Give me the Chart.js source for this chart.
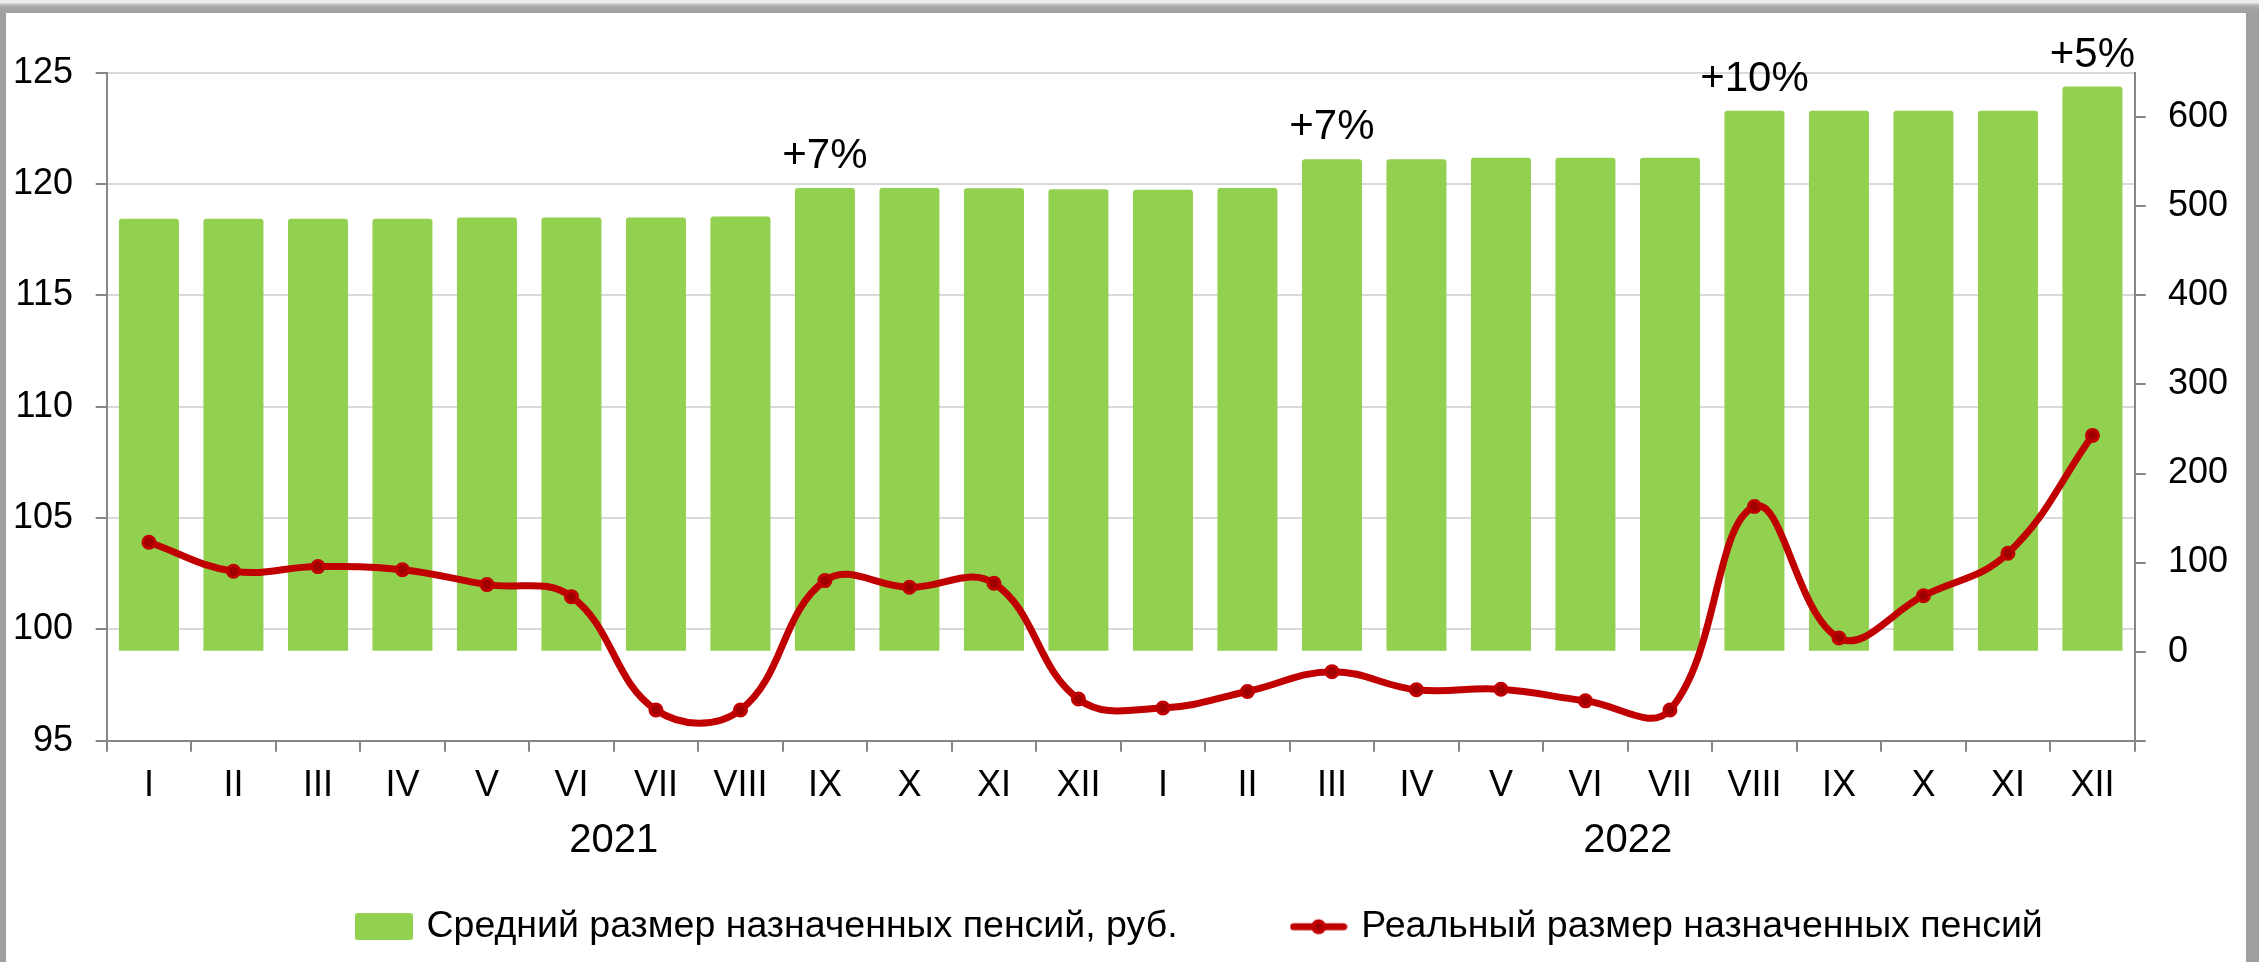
<!DOCTYPE html>
<html lang="ru">
<head>
<meta charset="utf-8">
<title>Средний и реальный размер назначенных пенсий</title>
<script src="https://cdn.jsdelivr.net/npm/chart.js@4.4.1/dist/chart.umd.min.js"></script>
<style>
  html, body { margin: 0; padding: 0; background: #fff; }
  body { width: 2259px; height: 962px; position: relative; overflow: hidden; }
  .frame-top { position: absolute; left: 0; top: 0; width: 2259px; height: 13px;
    background: linear-gradient(#ececec 0, #ececec 3px, #c4c4c4 4px, #a6a6a6 7px, #a0a0a0 13px); }
  .frame-left { position: absolute; left: 0; top: 13px; width: 6px; height: 949px; background: #9f9f9f; }
  .frame-right { position: absolute; left: 2246px; top: 13px; width: 13px; height: 949px; background: #9f9f9f; }
  #pensionChart { position: absolute; left: 6px; top: 13px; }
</style>
</head>
<body>
<div class="frame-top"></div>
<div class="frame-left"></div>
<div class="frame-right"></div>
<canvas id="pensionChart" width="2240" height="949"></canvas>
<script>
const months = ['I', 'II', 'III', 'IV', 'V', 'VI', 'VII', 'VIII', 'IX', 'X', 'XI', 'XII',
                'I', 'II', 'III', 'IV', 'V', 'VI', 'VII', 'VIII', 'IX', 'X', 'XI', 'XII'];
const years = ['2021', '2022'];

// Средний размер назначенных пенсий, руб. (right axis)
const avgPension = [485.9, 485.9, 485.9, 485.9, 487.4, 487.4, 487.4, 488.6, 520.5, 520.5, 520.2, 519.1,
                    518.7, 520.5, 552.8, 552.8, 554.5, 554.5, 554.5, 607.4, 607.4, 607.4, 607.4, 634.5];
// Реальный размер назначенных пенсий (left axis)
const realPension = [103.91, 102.61, 102.82, 102.68, 102.01, 101.47, 96.38, 96.38, 102.19, 101.89, 102.07, 96.87,
                     96.47, 97.21, 98.10, 97.29, 97.31, 96.79, 96.38, 105.52, 99.61, 101.51, 103.42, 108.71];
// pension increases shown above the bars
const raiseLabels = ['', '', '', '', '', '', '', '', '+7%', '', '', '',
                     '', '', '+7%', '', '', '', '', '+10%', '', '', '', '+5%'];

const GREEN = '#92d050';
const RED = '#c00000';
const AXIS = '#868686';
const GRID = '#d9d9d9';
const FONT = '"Liberation Sans", Arial, sans-serif';
const LEGEND_GAP = 117;

Chart.defaults.font.family = FONT;
Chart.defaults.font.size = 36;
Chart.defaults.color = '#000';

function legendIcon(kind) {
    const c = document.createElement('canvas');
    const ctx = c.getContext('2d');
    if (kind === 'bar') {
        c.width = 58; c.height = 27;
        ctx.fillStyle = GREEN;
        ctx.beginPath(); ctx.roundRect(0, 0, 58, 27, 3); ctx.fill();
    } else {
        c.width = 58; c.height = 18;
        ctx.strokeStyle = RED; ctx.lineWidth = 7; ctx.lineCap = 'round';
        ctx.beginPath(); ctx.moveTo(4, 9); ctx.lineTo(54, 9); ctx.stroke();
        ctx.fillStyle = RED;
        ctx.beginPath(); ctx.arc(29, 9, 7.5, 0, Math.PI * 2); ctx.fill();
        ctx.fillStyle = '#9a0000';
        ctx.beginPath(); ctx.arc(29, 9, 3, 0, Math.PI * 2); ctx.fill();
    }
    return c;
}

// text above the bars where pensions were raised
const raiseLabelsPlugin = {
    id: 'raiseLabels',
    afterDatasetsDraw(chart) {
        const meta = chart.getDatasetMeta(0);
        const ctx = chart.ctx;
        ctx.save();
        ctx.font = '42px ' + FONT;
        ctx.fillStyle = '#000';
        ctx.textAlign = 'center';
        ctx.textBaseline = 'alphabetic';
        raiseLabels.forEach((txt, i) => {
            if (!txt) return;
            const bar = meta.data[i];
            ctx.fillText(txt, bar.x, bar.y - 20);
        });
        ctx.restore();
    }
};

// the legend uses a wide item gap, so it is placed by hand after layout
const legendPlace = {
    id: 'legendPlace',
    afterLayout(chart) {
        const lg = chart.legend;
        const h = lg.height;
        lg.left = 150.5;
        lg.top = 778;
        lg.bottom = lg.top + h;
    }
};

new Chart(document.getElementById('pensionChart'), {
    data: {
        labels: months,
        datasets: [{
            type: 'bar',
            label: 'Средний размер назначенных пенсий, руб.',
            data: avgPension,
            yAxisID: 'y1',
            backgroundColor: GREEN,
            borderRadius: 3,
            categoryPercentage: 1,
            barPercentage: 0.71,
            order: 1
        }, {
            type: 'line',
            label: 'Реальный размер назначенных пенсий',
            data: realPension,
            yAxisID: 'y',
            borderColor: RED,
            borderWidth: 7,
            tension: 0.4,
            pointRadius: 6,
            pointBorderWidth: 3,
            pointBorderColor: RED,
            pointBackgroundColor: '#a00000',
            order: 0
        }]
    },
    options: {
        responsive: false,
        animation: false,
        layout: { padding: { top: 59.7, bottom: -70.2, left: 0, right: 0 } },
        plugins: {
            tooltip: { enabled: false },
            legend: {
                position: 'bottom',
                labels: {
                    font: { size: 37.5 },
                    usePointStyle: true,
                    pointStyleWidth: 48,
                    padding: LEGEND_GAP,
                    generateLabels: (chart) => [
                        { text: chart.data.datasets[0].label, pointStyle: legendIcon('bar'), fillStyle: GREEN, strokeStyle: GREEN, lineWidth: 0, hidden: false, datasetIndex: 0 },
                        { text: chart.data.datasets[1].label, pointStyle: legendIcon('line'), fillStyle: RED, strokeStyle: RED, lineWidth: 0, hidden: false, datasetIndex: 1 }
                    ]
                }
            }
        },
        scales: {
            x: {
                offset: true,
                grid: { offset: true, drawOnChartArea: false, tickLength: 11, color: AXIS, lineWidth: 2 },
                border: { color: AXIS, width: 2 },
                ticks: { padding: 12.7, maxRotation: 0, autoSkip: false },
                afterFit: (s) => { s.height = 67; }
            },
            x2: {
                type: 'category',
                labels: years,
                position: 'bottom',
                offset: true,
                grid: { display: false, drawTicks: false },
                border: { display: false },
                ticks: { padding: 9.3, font: { size: 40 } },
                afterFit: (s) => { s.height = 60; }
            },
            y: {
                position: 'left',
                min: 95,
                max: 125,
                ticks: { stepSize: 5, padding: 22.7 },
                grid: {
                    color: (c) => c.tick && c.tick.value === 95 ? 'rgba(0,0,0,0)' : GRID,
                    lineWidth: 2,
                    tickColor: AXIS,
                    tickLength: 11
                },
                border: { color: AXIS, width: 2 },
                afterFit: (s) => { s.width = 100.7; }
            },
            y1: {
                position: 'right',
                min: -100,
                max: 650,
                ticks: { stepSize: 100, padding: 22.3, callback: (v) => v < 0 ? '' : v },
                afterBuildTicks: (s) => { s.ticks = s.ticks.filter(t => t.value <= 600); },
                grid: { drawOnChartArea: false, color: AXIS, lineWidth: 2, tickLength: 11 },
                border: { color: AXIS, width: 2 },
                afterFit: (s) => { s.width = 111.3; }
            }
        }
    },
    plugins: [raiseLabelsPlugin, legendPlace]
});
</script>
</body>
</html>
